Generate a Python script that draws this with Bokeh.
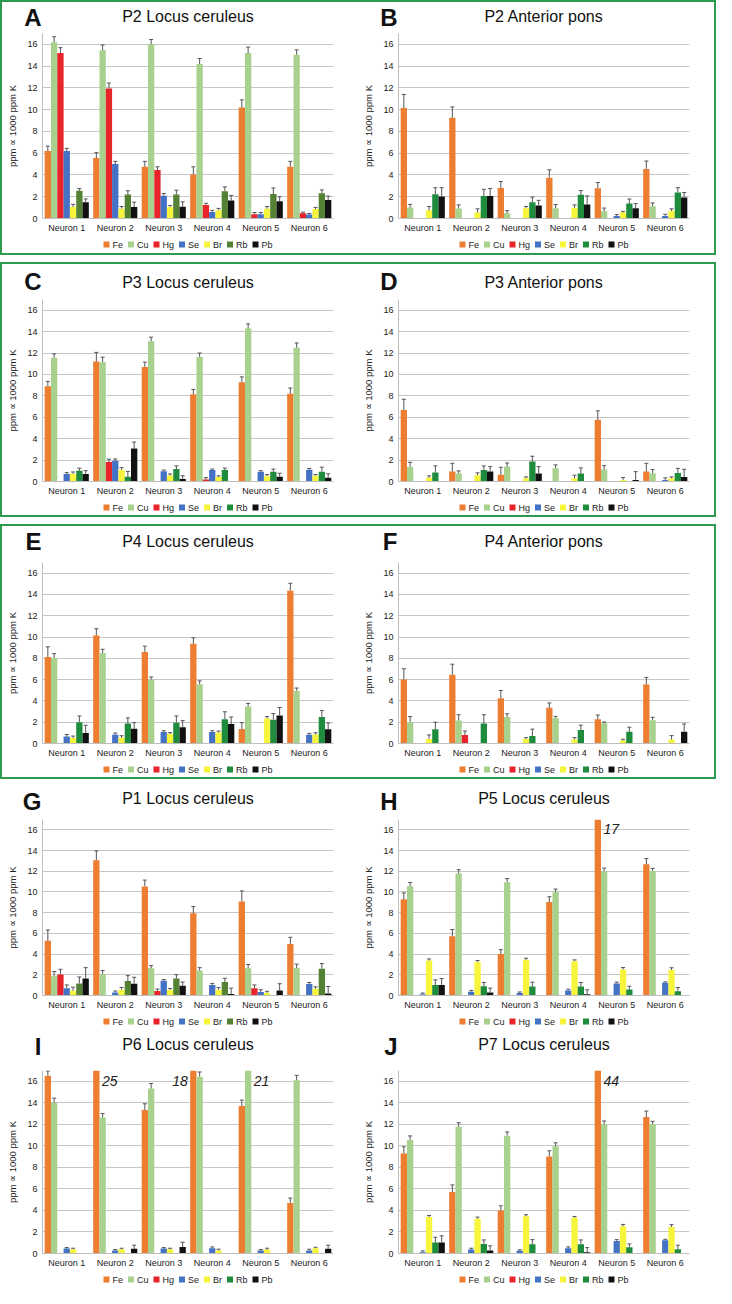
from bokeh.plotting import figure
from bokeh.models import Range1d, FixedTicker, ColumnDataSource
from bokeh.transform import dodge
from bokeh.layouts import row, column
from bokeh.core.properties import value
from bokeh.embed import file_html
from bokeh.resources import INLINE

# ---------------- data ----------------
NEURONS = ["Neuron 1", "Neuron 2", "Neuron 3", "Neuron 4", "Neuron 5", "Neuron 6"]
ELEMENTS = ["Fe", "Cu", "Hg", "Se", "Br", "Rb", "Pb"]
Y_TICKS = [0, 2, 4, 6, 8, 10, 12, 14, 16]
Y_LABEL = "ppm \u221d 1000 ppm K"

# A: P2 Locus ceruleus
A_VAL = {"Fe": [6.2, 5.55, 4.75, 4.05, 10.2, 4.75],
         "Cu": [16.2, 15.45, 16.0, 14.2, 15.2, 15.05],
         "Hg": [15.2, 11.95, 4.45, 1.25, 0.4, 0.48],
         "Se": [6.2, 5.0, 2.1, 0.6, 0.4, 0.36],
         "Br": [1.05, 0.9, 1.05, 0.75, 0.9, 0.87],
         "Rb": [2.55, 2.2, 2.2, 2.5, 2.25, 2.33],
         "Pb": [1.5, 1.05, 1.08, 1.65, 1.58, 1.7]}
A_ERR = {"Fe": [0.45, 0.5, 0.5, 0.7, 0.7, 0.5],
         "Cu": [0.5, 0.5, 0.45, 0.5, 0.55, 0.45],
         "Hg": [0.5, 0.5, 0.3, 0.15, 0.15, 0.1],
         "Se": [0.25, 0.25, 0.2, 0.15, 0.15, 0.1],
         "Br": [0.25, 0.2, 0.15, 0.18, 0.2, 0.15],
         "Rb": [0.2, 0.35, 0.4, 0.4, 0.55, 0.3],
         "Pb": [0.3, 0.45, 0.45, 0.47, 0.42, 0.36]}

# B: P2 Anterior pons
B_VAL = {"Fe": [10.15, 9.25, 2.8, 3.75, 2.77, 4.56],
         "Cu": [1.0, 0.92, 0.48, 0.95, 0.66, 1.13],
         "Hg": [0, 0, 0, 0, 0, 0],
         "Se": [0, 0, 0, 0, 0.24, 0.24],
         "Br": [0.75, 0.54, 0.95, 0.98, 0.54, 0.69],
         "Rb": [2.23, 2.06, 1.49, 2.18, 1.37, 2.38],
         "Pb": [2.03, 2.06, 1.19, 1.28, 0.95, 1.94]}
B_ERR = {"Fe": [1.25, 1.0, 0.6, 0.72, 0.54, 0.72],
         "Cu": [0.3, 0.33, 0.24, 0.33, 0.3, 0.3],
         "Hg": [0, 0, 0, 0, 0, 0],
         "Se": [0, 0, 0, 0, 0.12, 0.15],
         "Br": [0.35, 0.35, 0.15, 0.27, 0.12, 0.2],
         "Rb": [0.6, 0.62, 0.48, 0.39, 0.42, 0.45],
         "Pb": [0.8, 0.7, 0.48, 0.8, 0.42, 0.45]}

# C: P3 Locus ceruleus
C_VAL = {"Fe": [8.9, 11.2, 10.7, 8.15, 9.27, 8.2],
         "Cu": [11.56, 11.14, 13.1, 11.64, 14.28, 12.5],
         "Hg": [0, 1.81, 0, 0.18, 0, 0],
         "Se": [0.71, 1.93, 0.95, 1.07, 0.92, 1.1],
         "Br": [0.71, 1.1, 0.56, 0.41, 0.5, 0.53],
         "Rb": [1.0, 0.44, 1.16, 1.07, 0.92, 0.92],
         "Pb": [0.71, 3.08, 0.24, 0, 0.44, 0.36]}
C_ERR = {"Fe": [0.45, 0.86, 0.45, 0.45, 0.5, 0.53],
         "Cu": [0.36, 0.47, 0.38, 0.36, 0.44, 0.44],
         "Hg": [0, 0.27, 0, 0.18, 0, 0],
         "Se": [0.12, 0.18, 0.12, 0.09, 0.09, 0.12],
         "Br": [0.18, 0.2, 0.15, 0.12, 0.15, 0.12],
         "Rb": [0.25, 0.5, 0.3, 0.18, 0.24, 0.42],
         "Pb": [0.3, 0.6, 0.3, 0, 0.33, 0.36]}

# D: P3 Anterior pons
D_VAL = {"Fe": [6.68, 0.93, 0.62, 0, 5.76, 0.93],
         "Cu": [1.36, 0.77, 1.39, 1.24, 1.11, 0.77],
         "Hg": [0, 0, 0, 0, 0, 0],
         "Se": [0, 0, 0, 0, 0, 0.15],
         "Br": [0.34, 0.59, 0.31, 0.31, 0.15, 0.31],
         "Rb": [0.84, 1.08, 1.86, 0.74, 0, 0.8],
         "Pb": [0, 0.93, 0.74, 0, 0.15, 0.43]}
D_ERR = {"Fe": [1.0, 0.77, 0.71, 0, 0.84, 0.77],
         "Cu": [0.43, 0.22, 0.34, 0.31, 0.37, 0.34],
         "Hg": [0, 0, 0, 0, 0, 0],
         "Se": [0, 0, 0, 0, 0, 0.19],
         "Br": [0.19, 0.22, 0.12, 0.28, 0.22, 0.12],
         "Rb": [0.62, 0.37, 0.5, 0.53, 0, 0.43],
         "Pb": [0, 0.46, 0.65, 0, 0.77, 0.71]}

# E: P4 Locus ceruleus
E_VAL = {"Fe": [8.13, 10.15, 8.6, 9.36, 1.36, 14.35],
         "Cu": [8.03, 8.5, 6.0, 5.56, 3.48, 4.96],
         "Hg": [0, 0, 0, 0, 0, 0],
         "Se": [0.66, 0.82, 1.07, 1.07, 0, 0.82],
         "Br": [0.51, 0.54, 0.89, 1.04, 2.34, 0.85],
         "Rb": [1.99, 1.87, 1.96, 2.28, 2.24, 2.5],
         "Pb": [0.98, 1.39, 1.52, 1.83, 2.62, 1.33]}
E_ERR = {"Fe": [0.95, 0.63, 0.54, 0.57, 0.6, 0.7],
         "Cu": [0.41, 0.35, 0.25, 0.32, 0.28, 0.25],
         "Hg": [0, 0, 0, 0, 0, 0],
         "Se": [0.19, 0.16, 0.13, 0.13, 0, 0.13],
         "Br": [0.19, 0.19, 0.13, 0.13, 0.19, 0.16],
         "Rb": [0.6, 0.54, 0.63, 0.7, 0.57, 0.6],
         "Pb": [0.73, 0.57, 0.63, 0.66, 0.76, 0.6]}

# F: P4 Anterior pons
F_VAL = {"Fe": [6.02, 6.45, 4.24, 3.35, 2.27, 5.53],
         "Cu": [2.03, 2.15, 2.49, 2.4, 1.9, 2.18],
         "Hg": [0, 0.8, 0, 0, 0, 0],
         "Se": [0, 0, 0, 0, 0, 0],
         "Br": [0.43, 0, 0.43, 0.37, 0.28, 0.37],
         "Rb": [1.35, 1.87, 0.71, 1.26, 1.1, 0],
         "Pb": [0, 0, 0, 0, 0, 1.1]}
F_ERR = {"Fe": [1.0, 1.0, 0.74, 0.46, 0.4, 0.68],
         "Cu": [0.5, 0.55, 0.3, 0.15, 0.12, 0.28],
         "Hg": [0, 0.37, 0, 0, 0, 0],
         "Se": [0, 0, 0, 0, 0, 0],
         "Br": [0.37, 0, 0.12, 0.18, 0.12, 0.37],
         "Rb": [0.65, 0.83, 0.64, 0.46, 0.43, 0],
         "Pb": [0, 0, 0, 0, 0, 0.74]}

# G: P1 Locus ceruleus
G_VAL = {"Fe": [5.28, 13.07, 10.53, 7.94, 9.08, 4.97],
         "Cu": [1.85, 2.07, 2.63, 2.41, 2.63, 2.66],
         "Hg": [2.04, 0, 0.43, 0, 0.71, 0],
         "Se": [0.71, 0.28, 1.42, 1.02, 0.34, 1.11],
         "Br": [0.46, 0.56, 0.53, 0.56, 0.25, 0.65],
         "Rb": [1.17, 1.39, 1.64, 1.3, 0, 2.59],
         "Pb": [1.64, 1.14, 0.93, 0.15, 0.49, 0.19]}
G_ERR = {"Fe": [1.05, 0.9, 0.62, 0.65, 1.02, 0.65],
         "Cu": [0.46, 0.34, 0.25, 0.28, 0.37, 0.37],
         "Hg": [0.49, 0, 0.19, 0, 0.31, 0],
         "Se": [0.31, 0.15, 0.12, 0.15, 0.22, 0.15],
         "Br": [0.34, 0.22, 0.15, 0.22, 0.15, 0.19],
         "Rb": [0.62, 0.53, 0.37, 0.37, 0, 0.49],
         "Pb": [1.05, 0.62, 0.37, 0.56, 0.65, 0.68]}

# H: P5 Locus ceruleus
H_VAL = {"Fe": [9.29, 5.72, 4.0, 9.02, 17, 12.68],
         "Cu": [10.55, 11.78, 10.95, 9.97, 12.0, 12.03],
         "Hg": [0, 0, 0, 0, 0, 0],
         "Se": [0.12, 0.37, 0.25, 0.49, 1.17, 1.23],
         "Br": [3.38, 3.23, 3.45, 3.32, 2.52, 2.46],
         "Rb": [1.02, 0.89, 0.86, 0.86, 0.58, 0.4],
         "Pb": [1.02, 0.28, 0, 0.12, 0, 0]}
H_ERR = {"Fe": [0.62, 0.65, 0.43, 0.52, 0, 0.55],
         "Cu": [0.37, 0.37, 0.34, 0.31, 0.31, 0.25],
         "Hg": [0, 0, 0, 0, 0, 0],
         "Se": [0.12, 0.12, 0.09, 0.12, 0.12, 0.09],
         "Br": [0.15, 0.15, 0.15, 0.12, 0.18, 0.22],
         "Rb": [0.49, 0.37, 0.43, 0.4, 0.31, 0.37],
         "Pb": [0.62, 0.43, 0, 0.43, 0, 0]}

# I: P6 Locus ceruleus
I_VAL = {"Fe": [16.52, 25, 13.33, 18, 13.7, 4.69],
         "Cu": [14.0, 12.63, 15.33, 16.43, 21, 16.09],
         "Hg": [0, 0, 0, 0, 0, 0],
         "Se": [0.46, 0.28, 0.46, 0.49, 0.28, 0.28],
         "Br": [0.4, 0.4, 0.4, 0.28, 0.37, 0.49],
         "Rb": [0, 0, 0, 0, 0, 0],
         "Pb": [0, 0.43, 0.61, 0, 0, 0.43]}
I_ERR = {"Fe": [0.43, 0, 0.58, 0, 0.55, 0.46],
         "Cu": [0.43, 0.37, 0.46, 0.43, 0, 0.46],
         "Hg": [0, 0, 0, 0, 0, 0],
         "Se": [0.09, 0.09, 0.09, 0.12, 0.09, 0.12],
         "Br": [0.09, 0.09, 0.09, 0.12, 0.12, 0.09],
         "Rb": [0, 0, 0, 0, 0, 0],
         "Pb": [0, 0.34, 0.43, 0, 0, 0.34]}

# J: P7 Locus ceruleus
J_VAL = {"Fe": [9.29, 5.72, 4.0, 9.02, 44, 12.68],
         "Cu": [10.55, 11.78, 10.95, 9.97, 12.0, 12.03],
         "Hg": [0, 0, 0, 0, 0, 0],
         "Se": [0.12, 0.37, 0.25, 0.49, 1.17, 1.23],
         "Br": [3.38, 3.23, 3.45, 3.32, 2.52, 2.46],
         "Rb": [1.02, 0.89, 0.86, 0.86, 0.58, 0.4],
         "Pb": [1.02, 0.28, 0, 0.12, 0, 0]}
J_ERR = {"Fe": [0.62, 0.65, 0.43, 0.52, 0, 0.55],
         "Cu": [0.37, 0.37, 0.34, 0.31, 0.31, 0.25],
         "Hg": [0, 0, 0, 0, 0, 0],
         "Se": [0.12, 0.12, 0.09, 0.12, 0.12, 0.09],
         "Br": [0.15, 0.15, 0.15, 0.12, 0.18, 0.22],
         "Rb": [0.49, 0.37, 0.43, 0.4, 0.31, 0.37],
         "Pb": [0.62, 0.43, 0, 0.43, 0, 0]}

# ---------------- style ----------------
FONT = "Liberation Sans"
Y_MAX = 17
BAR_W = 0.13
COLORS = {"Fe": "#ED7D31", "Cu": "#A9D18E", "Hg": "#E8232A", "Se": "#4472C4",
          "Br": "#F7F43C", "Rb": "#1F8B3D", "Pb": "#111111"}
RB_OLIVE = "#548235"
BOX_GREEN = "#2E9A4E"
ERR_COLOR = "#555555"
TEXT_COLOR = "#222222"
FIG_W = 356
BORDER_L, BORDER_R = 40, 25
FRAME_W = FIG_W - BORDER_L - BORDER_R
MAIN_TOP = 3      # space above the frame inside the main figure
MAIN_BOTTOM = 16  # x-axis band below the frame
LEG_PX, LEG_SQ, LEG_GAP, LEG_SPACE = 9, 6, 3, 5
ADV = {"F": .611, "e": .556, "C": .722, "u": .556, "H": .722, "g": .556, "S": .667,
       "B": .667, "r": .333, "R": .722, "b": .556, "P": .667}


def strip_fig(height, y_range):
    f = figure(width=FIG_W, height=height, x_range=Range1d(0, FRAME_W), y_range=y_range,
               output_backend="svg", toolbar_location=None, title=None,
               x_axis_location=None, y_axis_location=None,
               min_border_left=BORDER_L, min_border_right=BORDER_R,
               min_border_top=0, min_border_bottom=0)
    f.grid.grid_line_color = None
    f.outline_line_color = None
    f.background_fill_color = "white"
    f.border_fill_color = "white"
    return f


def make_panel(letter, title, vals, errs, rb_color, top, frame_h, bottom,
               letter_dy, title_dy):
    # ---- header: panel letter (as a y-axis label in the left margin) and title
    head_h = top - MAIN_TOP
    hd = figure(width=FIG_W, height=head_h, x_range=Range1d(0, FRAME_W),
                y_range=Range1d(-MAIN_TOP, head_h - MAIN_TOP),
                output_backend="svg", toolbar_location=None, title=None,
                x_axis_location=None, y_axis_location="left",
                min_border_left=BORDER_L, min_border_right=BORDER_R,
                min_border_top=0, min_border_bottom=0)
    hd.grid.grid_line_color = None
    hd.outline_line_color = None
    hd.border_fill_color = "white"
    tick = int(round(letter_dy + 8))
    hd.yaxis.ticker = FixedTicker(ticks=[tick])
    hd.yaxis.major_label_overrides = {tick: letter}
    hd.yaxis.major_label_text_font = FONT
    hd.yaxis.major_label_text_font_size = "24px"
    hd.yaxis.major_label_text_font_style = "bold"
    hd.yaxis.major_label_text_color = "#111111"
    hd.yaxis.major_label_standoff = 1
    hd.yaxis.major_tick_line_color = None
    hd.yaxis.major_tick_out = 0
    hd.yaxis.major_tick_in = 0
    hd.yaxis.minor_tick_line_color = None
    hd.yaxis.axis_line_color = None
    hd.text(x=[FRAME_W / 2], y=[title_dy], text=[title], text_font=value(FONT),
            text_font_size="16px", text_color="#111111", text_align="center",
            text_baseline="alphabetic")

    # ---- main chart
    p = figure(x_range=NEURONS, y_range=Range1d(0, Y_MAX), width=FIG_W,
               height=MAIN_TOP + frame_h + MAIN_BOTTOM,
               output_backend="svg", toolbar_location=None, title=None,
               min_border_left=BORDER_L, min_border_right=BORDER_R,
               min_border_top=MAIN_TOP, min_border_bottom=MAIN_BOTTOM)
    p.outline_line_color = None
    p.background_fill_color = "white"
    p.border_fill_color = "white"

    offsets = [(i - 3) * BAR_W for i in range(len(ELEMENTS))]
    for el, off in zip(ELEMENTS, offsets):
        color = rb_color if el == "Rb" else COLORS[el]
        src = ColumnDataSource(dict(x=NEURONS, top=vals[el]))
        p.vbar(x=dodge("x", off, range=p.x_range), top="top", width=BAR_W,
               source=src, fill_color=color, line_color=None)
        ex, ey0, ey1 = [], [], []
        for n, v, e in zip(NEURONS, vals[el], errs[el]):
            if e > 0 and v < Y_MAX:
                ex.append(n)
                ey0.append(v)
                ey1.append(v + e)
        if ex:
            es = ColumnDataSource(dict(x=ex, y0=ey0, y1=ey1))
            xd = dodge("x", off, range=p.x_range)
            p.segment(x0=xd, y0="y0", x1=xd, y1="y1", source=es,
                      line_color=ERR_COLOR, line_width=1)
            p.scatter(x=xd, y="y1", source=es, marker="dash", size=4,
                      line_color=ERR_COLOR, line_width=1)
    # values beyond the axis maximum
    for k, el in enumerate(ELEMENTS):
        for j, (n, v) in enumerate(zip(NEURONS, vals[el])):
            if v >= Y_MAX:
                nxt = vals[ELEMENTS[k + 1]][j] if k + 1 < len(ELEMENTS) else 0
                side = -1 if nxt >= 14 else 1
                dx = offsets[k] + side * (BAR_W / 2 + 0.05)
                ts = ColumnDataSource(dict(x=[n], y=[Y_MAX - 0.95], t=["%g" % v]))
                p.text(x=dodge("x", dx, range=p.x_range), y="y", text="t", source=ts,
                       text_font=value(FONT), text_font_style="italic",
                       text_font_size="14px", text_color=TEXT_COLOR,
                       text_align="left" if side > 0 else "right",
                       text_baseline="alphabetic")

    p.xgrid.grid_line_color = None
    p.ygrid.ticker = FixedTicker(ticks=Y_TICKS)
    p.ygrid.grid_line_color = "#C6C6C6"
    p.ygrid.grid_line_width = 1

    p.yaxis.ticker = FixedTicker(ticks=Y_TICKS)
    p.yaxis.axis_label = Y_LABEL
    p.yaxis.axis_label_text_font = FONT
    p.yaxis.axis_label_text_font_size = "9.5px"
    p.yaxis.axis_label_text_font_style = "normal"
    p.yaxis.axis_label_text_color = TEXT_COLOR
    p.yaxis.axis_label_standoff = 6
    p.yaxis.major_label_text_font = FONT
    p.yaxis.major_label_text_font_size = "9px"
    p.yaxis.major_label_text_color = TEXT_COLOR
    p.yaxis.major_label_standoff = 5
    p.yaxis.major_tick_line_color = None
    p.yaxis.major_tick_out = 0
    p.yaxis.major_tick_in = 0
    p.yaxis.minor_tick_line_color = None
    p.yaxis.axis_line_color = "#BFBFBF"

    p.xaxis.major_label_text_font = FONT
    p.xaxis.major_label_text_font_size = "9px"
    p.xaxis.major_label_text_color = TEXT_COLOR
    p.xaxis.major_label_standoff = 4
    p.xaxis.major_tick_line_color = None
    p.xaxis.major_tick_out = 0
    p.xaxis.major_tick_in = 0
    p.xaxis.minor_tick_line_color = None
    p.xaxis.axis_line_color = "#BFBFBF"

    # ---- legend strip (squares + labels laid out left to right, centred)
    leg_h = bottom - MAIN_BOTTOM
    lg = strip_fig(leg_h, Range1d(0, leg_h))
    widths = [sum(ADV.get(c, .556) for c in el) * LEG_PX for el in ELEMENTS]
    total = sum(LEG_SQ + LEG_GAP + w for w in widths) + LEG_SPACE * (len(ELEMENTS) - 1)
    x = (FRAME_W - total) / 2
    sq_x, tx_x = [], []
    for w in widths:
        sq_x.append(x + LEG_SQ / 2)
        tx_x.append(x + LEG_SQ + LEG_GAP)
        x += LEG_SQ + LEG_GAP + w + LEG_SPACE
    cols = [rb_color if el == "Rb" else COLORS[el] for el in ELEMENTS]
    yc = leg_h - 9
    lsrc = ColumnDataSource(dict(sx=sq_x, tx=tx_x, y=[yc] * len(ELEMENTS),
                                 c=cols, t=ELEMENTS))
    lg.scatter(x="sx", y="y", source=lsrc, marker="square", size=LEG_SQ,
               fill_color="c", line_color=None)
    lg.text(x="tx", y="y", text="t", source=lsrc, text_font=value(FONT),
            text_font_size="%dpx" % LEG_PX, text_color=TEXT_COLOR,
            text_align="left", text_baseline="middle")

    return column(hd, p, lg)


pA = make_panel("A", "P2 Locus ceruleus", A_VAL, A_ERR, RB_OLIVE, 31, 186, 34, 5, 11)
pB = make_panel("B", "P2 Anterior pons", B_VAL, B_ERR, COLORS["Rb"], 31, 186, 34, 5, 11)
pC = make_panel("C", "P3 Locus ceruleus", C_VAL, C_ERR, COLORS["Rb"], 35, 183, 33, 11, 11)
pD = make_panel("D", "P3 Anterior pons", D_VAL, D_ERR, COLORS["Rb"], 35, 183, 33, 11, 11)
pE = make_panel("E", "P4 Locus ceruleus", E_VAL, E_ERR, COLORS["Rb"], 36, 182, 33, 10, 15)
pF = make_panel("F", "P4 Anterior pons", F_VAL, F_ERR, COLORS["Rb"], 36, 182, 33, 10, 15)
pG = make_panel("G", "P1 Locus ceruleus", G_VAL, G_ERR, RB_OLIVE, 35, 177, 34, 11, 15)
pH = make_panel("H", "P5 Locus ceruleus", H_VAL, H_ERR, COLORS["Rb"], 35, 177, 34, 11, 15)
pI = make_panel("I", "P6 Locus ceruleus", I_VAL, I_ERR, COLORS["Rb"], 40, 184, 32, 15, 20)
pJ = make_panel("J", "P7 Locus ceruleus", J_VAL, J_ERR, COLORS["Rb"], 40, 184, 32, 15, 20)

box = {"border": "2px solid " + BOX_GREEN}
r1 = row(pA, pB, styles=box, margin=(0, 0, 7, 0))
r2 = row(pC, pD, styles=box, margin=(0, 0, 7, 0))
r3 = row(pE, pF, styles=box, margin=(0, 0, 5, 0))
r4 = row(pG, pH, margin=(0, 2, 0, 2))
r5 = row(pI, pJ, margin=(0, 2, 0, 2))
page = column(r1, r2, r3, r4, r5)

open("out.html", "w").write(file_html(page, INLINE, title="Trace elements"))
